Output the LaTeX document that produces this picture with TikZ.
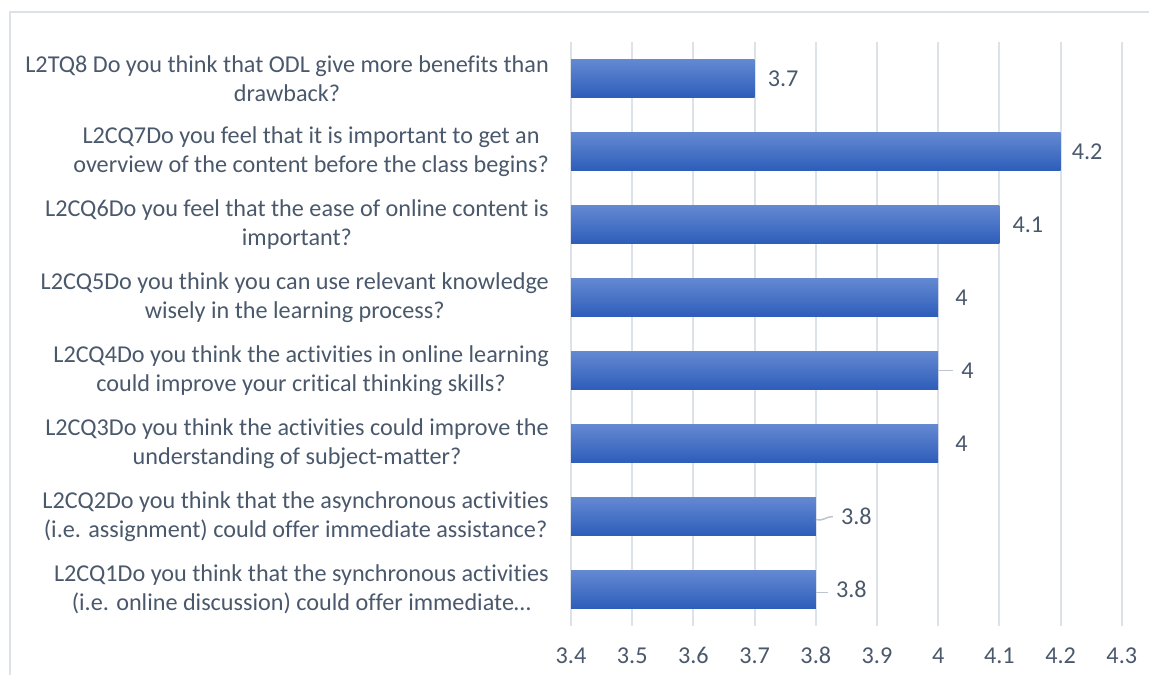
\documentclass[tikz,border=0pt]{standalone}
\usepackage{fontspec}
\setmainfont[Ligatures=NoCommon]{Carlito}
\usetikzlibrary{positioning}
\definecolor{txtgray}{HTML}{4A586C}
\definecolor{gridgray}{HTML}{DDE1E8}
\definecolor{leadgray}{HTML}{BCC4D2}
\definecolor{bartop}{HTML}{6489D2}
\definecolor{barbot}{HTML}{2D5DBA}
\tikzset{
  qlabel/.style={anchor=east, align=center, text=txtgray, inner sep=0pt,
    font=\fontsize{24.2}{29}\selectfont},
  vlabel/.style={anchor=west, text=txtgray, inner sep=0pt,
    font=\fontsize{24.2}{29}\selectfont},
  ticklabel/.style={anchor=base, text=txtgray, inner sep=0pt,
    font=\fontsize{24.2}{29}\selectfont},
  gridline/.style={draw=gridgray, line width=2pt},
  bar/.style={top color=bartop, bottom color=barbot},
  leader/.style={draw=leadgray, line width=1.5pt}
}
\begin{document}
\begin{tikzpicture}[x=1pt,y=-1pt]
    \def\x{61.2}
    \def\y{73}
    \def\o{571}
    \useasboundingbox (0,0) rectangle (1149,675);
    \draw [gridline, line width=1.5pt] (10,675) -- (10,12) -- (1149,12);
    % grid and axis
    \foreach \i/\t in {0/3.4,1/3.5,2/3.6,3/3.7,4/3.8,5/3.9,6/4,7/4.1,8/4.2,9/4.3} {
      \draw [gridline] (\o+\i*\x, 42) -- (\o+\i*\x, 626);
      \node [ticklabel] (T\i) at (\o+\i*\x, 663) {\t};
    }
    % bars
    \shade [bar] (\o, 0.5*\y+42-19) rectangle (\o+3*\x, 0.5*\y+42+19);
    \shade [bar] (\o, 1.5*\y+42-19) rectangle (\o+8*\x, 1.5*\y+42+19);
    \shade [bar] (\o, 2.5*\y+42-19) rectangle (\o+7*\x, 2.5*\y+42+19);
    \shade [bar] (\o, 3.5*\y+42-19) rectangle (\o+6*\x, 3.5*\y+42+19);
    \shade [bar] (\o, 4.5*\y+42-19) rectangle (\o+6*\x, 4.5*\y+42+19);
    \shade [bar] (\o, 5.5*\y+42-19) rectangle (\o+6*\x, 5.5*\y+42+19);
    \shade [bar] (\o, 6.5*\y+42-19) rectangle (\o+4*\x, 6.5*\y+42+19);
    \shade [bar] (\o, 7.5*\y+42-19) rectangle (\o+4*\x, 7.5*\y+42+19);
    \coordinate (E1) at (\o+3*\x, 0.5*\y+42);
    \coordinate (E2) at (\o+8*\x, 1.5*\y+42);
    \coordinate (E3) at (\o+7*\x, 2.5*\y+42);
    \coordinate (E4) at (\o+6*\x, 3.5*\y+42);
    \coordinate (E5) at (\o+6*\x, 4.5*\y+42);
    \coordinate (E6) at (\o+6*\x, 5.5*\y+42);
    \coordinate (E7) at (\o+4*\x, 6.5*\y+42);
    \coordinate (E8) at (\o+4*\x, 7.5*\y+42);
    % value labels
    \node [vlabel, right=13pt of E1] (V1) {3.7};
    \node [vlabel, right=11pt of E2] (V2) {4.2};
    \node [vlabel, right=13pt of E3] (V3) {4.1};
    \node [vlabel, right=17pt of E4] (V4) {4};
    \node [vlabel, right=23pt of E5] (V5) {4};
    \node [vlabel, right=17pt of E6] (V6) {4};
    \node [vlabel, right=25pt of E7] (V7) {3.8};
    \node [vlabel, right=20pt of E8] (V8) {3.8};
    \draw [leader] (E5) -- ([xshift=-8pt]V5.west);
    \draw [leader] ([yshift=-3pt]E7) to [out=-20,in=180] ([xshift=-8pt]V7.west);
    \draw [leader] ([yshift=-3pt]E8) -- ([xshift=-8pt,yshift=-3pt]V8.west);
    % questions
    \node [qlabel] (Q1) at (549, 0.5*\y+42) {L2TQ8 Do you think that ODL give more benefits than\\drawback?};
    \node [qlabel] (Q2) at (549, 1.5*\y+42) {L2CQ7Do you feel that it is important to get an\\overview of the content before the class begins?};
    \node [qlabel] (Q3) at (549, 2.5*\y+42) {L2CQ6Do you feel that the ease of online content is\\important?};
    \node [qlabel] (Q4) at (549, 3.5*\y+42) {L2CQ5Do you think you can use relevant knowledge\\wisely in the learning process?};
    \node [qlabel] (Q5) at (549, 4.5*\y+42) {L2CQ4Do you think the activities in online learning\\could improve your critical thinking skills?};
    \node [qlabel] (Q6) at (549, 5.5*\y+42) {L2CQ3Do you think the activities could improve the\\understanding of subject-matter?};
    \node [qlabel] (Q7) at (549, 6.5*\y+42) {L2CQ2Do you think that the asynchronous activities\\(i.e. assignment) could offer immediate assistance?};
    \node [qlabel] (Q8) at (549, 7.5*\y+42) {L2CQ1Do you think that the synchronous activities\\(i.e. online discussion) could offer immediate…};
\end{tikzpicture}
\end{document}
